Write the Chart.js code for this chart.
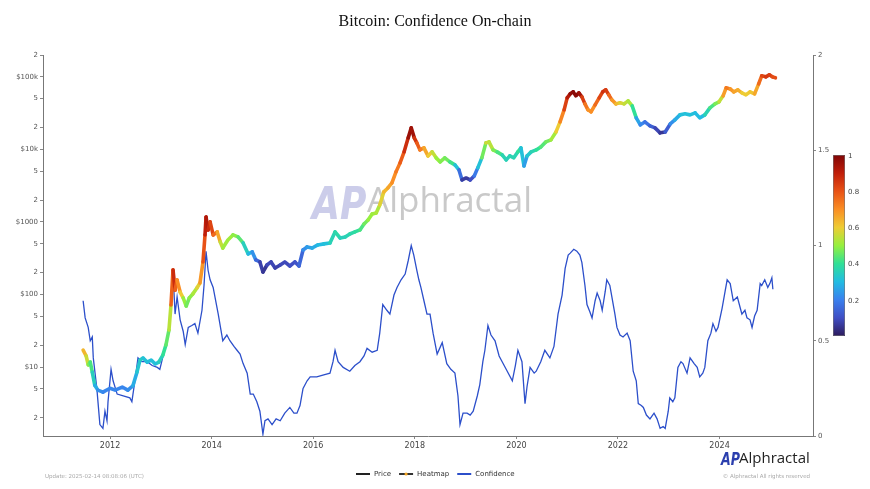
<!DOCTYPE html>
<html>
<head>
<meta charset="utf-8">
<title>Bitcoin: Confidence On-chain</title>
<script src="https://cdn.jsdelivr.net/npm/chart.js@4.4.1/dist/chart.umd.min.js"></script>
<style>
  html, body { margin: 0; padding: 0; background: #fff; }
  canvas { display: block; }
</style>
</head>
<body>
<canvas id="chart" width="870" height="489"></canvas>
<script>
// values (decimal years)
const priceDates = [2011.47, 2011.53, 2011.57, 2011.61, 2011.65, 2011.70, 2011.76, 2011.86, 2012.0, 2012.10,
  2012.24, 2012.35, 2012.45, 2012.53, 2012.59, 2012.65, 2012.73, 2012.81, 2012.89, 2012.96,
  2013.04, 2013.10, 2013.16, 2013.20, 2013.24, 2013.28, 2013.32, 2013.38, 2013.44, 2013.50,
  2013.56, 2013.63, 2013.71, 2013.77, 2013.83, 2013.87, 2013.89, 2013.93, 2013.97, 2014.03,
  2014.11, 2014.17, 2014.22, 2014.32, 2014.42, 2014.52, 2014.62, 2014.72, 2014.80, 2014.87,
  2014.95, 2015.01, 2015.09, 2015.17, 2015.25, 2015.35, 2015.44, 2015.54, 2015.64, 2015.72,
  2015.80, 2015.88, 2015.98, 2016.09, 2016.21, 2016.33, 2016.43, 2016.53, 2016.63, 2016.72,
  2016.82, 2016.92, 2017.0, 2017.08, 2017.16, 2017.24, 2017.31, 2017.39, 2017.47, 2017.55,
  2017.63, 2017.71, 2017.79, 2017.87, 2017.93, 2017.99, 2018.04, 2018.10, 2018.18, 2018.26,
  2018.34, 2018.42, 2018.50, 2018.59, 2018.69, 2018.79, 2018.87, 2018.93, 2019.01, 2019.09,
  2019.17, 2019.24, 2019.32, 2019.40, 2019.46, 2019.54, 2019.62, 2019.72, 2019.80, 2019.87,
  2019.95, 2020.03, 2020.09, 2020.15, 2020.21, 2020.29, 2020.39, 2020.48, 2020.58, 2020.68,
  2020.78, 2020.86, 2020.94, 2021.0, 2021.06, 2021.12, 2021.17, 2021.23, 2021.29, 2021.35,
  2021.41, 2021.47, 2021.55, 2021.63, 2021.70, 2021.76, 2021.82, 2021.88, 2021.96, 2022.04,
  2022.12, 2022.20, 2022.28, 2022.36, 2022.44, 2022.53, 2022.63, 2022.73, 2022.83, 2022.93,
  2023.03, 2023.12, 2023.22, 2023.32, 2023.42, 2023.52, 2023.61, 2023.71, 2023.81, 2023.91,
  2023.99, 2024.07, 2024.13, 2024.21, 2024.28, 2024.36, 2024.44, 2024.52, 2024.60, 2024.69,
  2024.77, 2024.83, 2024.91, 2024.98, 2025.04, 2025.10];

const priceValues = [17.1, 14.2, 10.7, 11.7, 8.5, 5.6, 4.8, 4.5, 5.1, 4.8,
  5.3, 4.8, 5.5, 8.5, 12.5, 13.3, 11.7, 12.5, 11.0, 11.7,
  14.6, 20.1, 32.4, 71.6, 218, 115, 158, 108, 89.5, 69.4,
  89.5, 102, 123, 144, 281, 662, 1172, 776, 1000, 662,
  728, 530, 437, 565, 662, 621, 513, 362, 386, 299,
  281, 204, 255, 281, 232, 255, 281, 247, 281, 247,
  411, 452, 437, 482, 498, 513, 728, 601, 621, 682,
  728, 776, 938, 1066, 1288, 1330, 1714, 2594, 2944, 3451,
  4898, 6516, 9246, 14420, 19800, 14420, 12300, 9840, 10500, 8130,
  9246, 7640, 6730, 7640, 6730, 6110, 5210, 3790, 4040, 3790,
  4300, 5560, 7640, 12300, 12680, 9840, 9246, 8400, 7160, 8130,
  7640, 9246, 10500, 5920, 8130, 9246, 9840, 10810, 12680, 13520,
  17400, 23900, 35100, 51300, 58300, 62100, 54700, 60100, 53000, 42400,
  35100, 32900, 41100, 51300, 62100, 66200, 56500, 48200, 42400, 43800,
  42400, 46700, 39800, 27200, 21800, 23900, 21100, 19800, 16900, 17400,
  22500, 25500, 29900, 30900, 29900, 31900, 27200, 29900, 37300, 42400,
  45200, 54700, 70500, 68200, 62100, 66200, 60100, 56500, 62100, 58300,
  80000, 103300, 100000, 106600, 100000, 96900];

const heatValues = [0.65, 0.62, 0.5, 0.45, 0.4, 0.3, 0.25, 0.2, 0.22, 0.2,
  0.22, 0.2, 0.25, 0.3, 0.35, 0.33, 0.3, 0.32, 0.3, 0.32,
  0.38, 0.42, 0.48, 0.6, 0.95, 0.8, 0.75, 0.65, 0.55, 0.45,
  0.48, 0.5, 0.55, 0.62, 0.75, 0.85, 0.95, 0.9, 0.85, 0.8,
  0.72, 0.6, 0.5, 0.52, 0.5, 0.48, 0.4, 0.3, 0.28, 0.18,
  0.12, 0.03, 0.08, 0.1, 0.07, 0.08, 0.1, 0.08, 0.12, 0.1,
  0.2, 0.25, 0.25, 0.3, 0.3, 0.32, 0.4, 0.35, 0.35, 0.37,
  0.38, 0.4, 0.45, 0.48, 0.52, 0.5, 0.55, 0.62, 0.65, 0.68,
  0.72, 0.75, 0.82, 0.92, 1.0, 0.9, 0.82, 0.75, 0.7, 0.62,
  0.58, 0.52, 0.48, 0.48, 0.45, 0.38, 0.25, 0.08, 0.05, 0.08,
  0.12, 0.25, 0.38, 0.55, 0.58, 0.5, 0.45, 0.4, 0.33, 0.38,
  0.35, 0.38, 0.42, 0.2, 0.3, 0.35, 0.38, 0.42, 0.45, 0.48,
  0.55, 0.65, 0.78, 0.88, 0.95, 1.0, 0.97, 1.0, 0.9, 0.78,
  0.7, 0.68, 0.72, 0.8, 0.85, 0.88, 0.8, 0.72, 0.65, 0.6,
  0.55, 0.55, 0.5, 0.3, 0.22, 0.2, 0.15, 0.12, 0.05, 0.06,
  0.2, 0.25, 0.3, 0.32, 0.3, 0.32, 0.28, 0.32, 0.4, 0.45,
  0.5, 0.6, 0.75, 0.72, 0.65, 0.68, 0.62, 0.58, 0.62, 0.6,
  0.72, 0.8, 0.85, 0.85, 0.82, 0.8];

const confDates = [2011.47, 2011.51, 2011.57, 2011.61, 2011.65, 2011.67, 2011.74, 2011.80, 2011.86, 2011.90,
  2011.94, 2011.96, 2012.02, 2012.06, 2012.14, 2012.26, 2012.39, 2012.43, 2012.49, 2012.55,
  2012.63, 2012.73, 2012.83, 2012.93, 2012.98, 2013.08, 2013.18, 2013.24, 2013.28, 2013.32,
  2013.38, 2013.44, 2013.48, 2013.54, 2013.61, 2013.67, 2013.73, 2013.81, 2013.85, 2013.89,
  2013.93, 2013.97, 2014.03, 2014.13, 2014.22, 2014.30, 2014.36, 2014.44, 2014.50, 2014.56,
  2014.62, 2014.70, 2014.76, 2014.82, 2014.89, 2014.95, 2015.01, 2015.05, 2015.11, 2015.19,
  2015.27, 2015.35, 2015.44, 2015.54, 2015.62, 2015.68, 2015.74, 2015.80, 2015.88, 2015.94,
  2016.07, 2016.19, 2016.33, 2016.39, 2016.43, 2016.49, 2016.59, 2016.72, 2016.82, 2016.92,
  2017.00, 2017.06, 2017.16, 2017.26, 2017.31, 2017.37, 2017.45, 2017.51, 2017.59, 2017.65,
  2017.73, 2017.81, 2017.87, 2017.93, 2017.98, 2018.04, 2018.08, 2018.12, 2018.18, 2018.24,
  2018.30, 2018.36, 2018.44, 2018.54, 2018.63, 2018.71, 2018.79, 2018.85, 2018.89, 2018.95,
  2019.03, 2019.09, 2019.15, 2019.23, 2019.28, 2019.34, 2019.38, 2019.44, 2019.50, 2019.58,
  2019.66, 2019.72, 2019.82, 2019.92, 2019.98, 2020.03, 2020.11, 2020.17, 2020.21, 2020.27,
  2020.35, 2020.39, 2020.48, 2020.56, 2020.66, 2020.74, 2020.82, 2020.90, 2020.96, 2021.02,
  2021.06, 2021.13, 2021.19, 2021.25, 2021.29, 2021.35, 2021.39, 2021.45, 2021.49, 2021.55,
  2021.59, 2021.65, 2021.69, 2021.75, 2021.78, 2021.84, 2021.88, 2021.94, 2021.98, 2022.04,
  2022.10, 2022.18, 2022.24, 2022.30, 2022.36, 2022.40, 2022.46, 2022.50, 2022.56, 2022.63,
  2022.71, 2022.77, 2022.83, 2022.89, 2022.93, 2022.99, 2023.02, 2023.08, 2023.12, 2023.18,
  2023.24, 2023.28, 2023.36, 2023.42, 2023.50, 2023.56, 2023.61, 2023.67, 2023.71, 2023.77,
  2023.83, 2023.87, 2023.93, 2023.97, 2024.05, 2024.11, 2024.15, 2024.21, 2024.27, 2024.35,
  2024.40, 2024.44, 2024.50, 2024.54, 2024.60, 2024.64, 2024.69, 2024.74, 2024.80, 2024.83,
  2024.89, 2024.95, 2024.99, 2025.03, 2025.05];

const confValues = [0.71, 0.62, 0.57, 0.50, 0.52, 0.41, 0.25, 0.06, 0.04, 0.13,
  0.08, 0.18, 0.35, 0.29, 0.22, 0.21, 0.20, 0.18, 0.29, 0.41,
  0.39, 0.39, 0.37, 0.36, 0.35, 0.46, 0.59, 0.86, 0.64, 0.73,
  0.61, 0.55, 0.48, 0.57, 0.58, 0.59, 0.54, 0.66, 0.79, 0.97,
  0.87, 0.82, 0.78, 0.64, 0.50, 0.53, 0.50, 0.47, 0.45, 0.43,
  0.38, 0.33, 0.22, 0.22, 0.18, 0.13, 0.01, 0.08, 0.09, 0.06,
  0.09, 0.08, 0.12, 0.15, 0.12, 0.12, 0.16, 0.25, 0.29, 0.31,
  0.31, 0.32, 0.33, 0.39, 0.45, 0.39, 0.36, 0.34, 0.37, 0.39,
  0.42, 0.46, 0.44, 0.45, 0.54, 0.69, 0.66, 0.64, 0.74, 0.78,
  0.82, 0.85, 0.92, 1.00, 0.95, 0.87, 0.82, 0.78, 0.71, 0.64,
  0.64, 0.54, 0.43, 0.49, 0.38, 0.35, 0.33, 0.21, 0.06, 0.12,
  0.12, 0.11, 0.13, 0.21, 0.27, 0.39, 0.45, 0.58, 0.53, 0.50,
  0.42, 0.39, 0.34, 0.29, 0.37, 0.45, 0.39, 0.17, 0.26, 0.36,
  0.33, 0.34, 0.39, 0.45, 0.41, 0.47, 0.64, 0.74, 0.88, 0.95,
  0.96, 0.98, 0.97, 0.95, 0.91, 0.79, 0.69, 0.65, 0.62, 0.71,
  0.75, 0.71, 0.66, 0.76, 0.82, 0.79, 0.73, 0.64, 0.57, 0.53,
  0.52, 0.54, 0.50, 0.34, 0.29, 0.17, 0.16, 0.15, 0.11, 0.09,
  0.12, 0.09, 0.04, 0.05, 0.04, 0.13, 0.20, 0.18, 0.20, 0.36,
  0.39, 0.38, 0.33, 0.41, 0.38, 0.36, 0.31, 0.33, 0.36, 0.50,
  0.54, 0.59, 0.55, 0.57, 0.67, 0.76, 0.82, 0.80, 0.71, 0.73,
  0.68, 0.64, 0.66, 0.62, 0.61, 0.57, 0.63, 0.66, 0.80, 0.79,
  0.82, 0.78, 0.80, 0.83, 0.77];

const yearTicks = [2012, 2014, 2016, 2018, 2020, 2022, 2024];
const priceTicks = [2, 5, 10, 20, 50, 100, 200, 500, 1000, 2000, 5000, 10000, 20000, 50000, 100000, 200000];
const priceTickLabels = ["2", "5", "$10", "2", "5", "$100", "2", "5", "$1000", "2", "5", "$10k", "2", "5", "$100k", "2"];
const confTicks = [0, 0.5, 1, 1.5, 2];
const heatTicks = [0.2, 0.4, 0.6, 0.8, 1];
const legendItems = ["Price", "Heatmap", "Confidence"];

// colour ramp for the heatmap
const heatStops = [
  [0.0, [45, 27, 92]],
  [0.1, [64, 78, 196]],
  [0.2, [58, 128, 238]],
  [0.3, [34, 188, 226]],
  [0.4, [48, 224, 150]],
  [0.5, [150, 240, 62]],
  [0.6, [238, 204, 52]],
  [0.7, [250, 142, 36]],
  [0.8, [232, 82, 22]],
  [0.9, [192, 30, 10]],
  [1.0, [128, 6, 6]]
];

function heatColor(v) {
  v = Math.max(0, Math.min(1, v));
  for (let i = 1; i < heatStops.length; i++) {
    if (v <= heatStops[i][0]) {
      const a = heatStops[i - 1], b = heatStops[i];
      const t = (v - a[0]) / (b[0] - a[0]);
      const c = a[1].map((n, k) => Math.round(n + (b[1][k] - n) * t));
      return `rgb(${c[0]},${c[1]},${c[2]})`;
    }
  }
  return "rgb(128,6,6)";
}

const confColor = "#2c4fca";
const legendColors = ["#222", "#333", confColor];

const pricePoints = priceDates.map((d, i) => ({ x: d, y: priceValues[i] }));
const confPoints = confDates.map((d, i) => ({ x: d, y: confValues[i] }));

// squeezed italic "AP" mark
function drawMark(ctx, x, y, size, sx, color) {
  ctx.save();
  ctx.translate(x, y);
  ctx.scale(sx, 1);
  ctx.fillStyle = color;
  ctx.font = `italic bold ${size}px 'DejaVu Sans'`;
  ctx.textAlign = "left";
  ctx.textBaseline = "alphabetic";
  ctx.fillText("AP", 0, 0);
  ctx.restore();
}

const decorations = {
  id: "decorations",
  beforeDatasetsDraw(chart) {
    const ctx = chart.ctx;
    ctx.save();
    // watermark
    drawMark(ctx, 312, 219, 44, 0.82, "rgba(198,200,232,0.9)");
    ctx.fillStyle = "rgba(192,192,192,0.85)";
    ctx.font = "35px 'Open Sans'";
    ctx.textBaseline = "alphabetic";
    ctx.fillText("Alphractal", 367, 212);
    ctx.restore();
  },
  afterDraw(chart) {
    const ctx = chart.ctx;
    ctx.save();
    // title
    ctx.fillStyle = "#111";
    ctx.font = "16px 'Liberation Serif'";
    ctx.textAlign = "center";
    ctx.textBaseline = "middle";
    ctx.fillText("Bitcoin: Confidence On-chain", 435, 22);

    // colour bar
    const bx = 833, bw = 12, top = 155, bottom = 336;
    const grad = ctx.createLinearGradient(0, bottom, 0, top);
    heatStops.forEach(s => grad.addColorStop(s[0], heatColor(s[0])));
    ctx.fillStyle = grad;
    ctx.fillRect(bx, top, bw, bottom - top);
    ctx.strokeStyle = "#777";
    ctx.lineWidth = 0.6;
    ctx.strokeRect(bx + 0.5, top + 0.5, bw - 1, bottom - top - 1);
    ctx.fillStyle = "#444";
    ctx.font = "7px 'DejaVu Sans'";
    ctx.textAlign = "left";
    heatTicks.forEach(t => {
      const y = bottom - t * (bottom - top);
      ctx.fillText(String(t), bx + bw + 3, y + 1);
    });

    // legend
    ctx.font = "7px 'DejaVu Sans'";
    ctx.textBaseline = "middle";
    const ly = 474;
    let lx = 356;
    legendItems.forEach((name, i) => {
      ctx.lineWidth = 2;
      ctx.strokeStyle = legendColors[i];
      ctx.beginPath(); ctx.moveTo(lx, ly); ctx.lineTo(lx + 14, ly); ctx.stroke();
      if (name === "Heatmap") {
        ctx.fillStyle = "#f5a623";
        ctx.beginPath(); ctx.arc(lx + 7, ly, 1.6, 0, Math.PI * 2); ctx.fill();
      }
      ctx.fillStyle = "#333";
      ctx.fillText(name, lx + 18, ly);
      lx += 18 + ctx.measureText(name).width + 8;
    });

    // footer texts
    ctx.fillStyle = "#aaa";
    ctx.font = "5.5px 'DejaVu Sans'";
    ctx.fillText("Update: 2025-02-14 08:08:06 (UTC)", 45, 477);
    ctx.textAlign = "right";
    ctx.fillText("\u00a9 Alphractal All rights reserved", 810, 477);

    // bottom logo
    drawMark(ctx, 721, 465, 18, 0.7, "#2b3fae");
    ctx.textAlign = "left";
    ctx.textBaseline = "alphabetic";
    ctx.fillStyle = "#222";
    ctx.font = "15px 'Open Sans'";
    ctx.fillText("Alphractal", 739, 463);
    ctx.restore();
  }
};

new Chart(document.getElementById("chart"), {
  type: "line",
  data: {
    datasets: [
      {
        label: "Heatmap",
        data: pricePoints,
        yAxisID: "yPrice",
        borderWidth: 3.6,
        borderCapStyle: "round",
        borderJoinStyle: "round",
        pointRadius: 0,
        tension: 0,
        segment: {
          borderColor: c => heatColor((heatValues[c.p0DataIndex] + heatValues[c.p1DataIndex]) / 2)
        }
      },
      {
        label: "Price",
        data: pricePoints,
        yAxisID: "yPrice",
        borderColor: "#111",
        borderWidth: 1,
        pointRadius: 0,
        tension: 0
      },
      {
        label: "Confidence",
        data: confPoints,
        yAxisID: "yConf",
        borderColor: confColor,
        borderWidth: 1.3,
        pointRadius: 0,
        tension: 0
      }
    ]
  },
  options: {
    responsive: false,
    animation: false,
    devicePixelRatio: 1,
    layout: { padding: { top: 55, bottom: 33, left: 0, right: 0 } },
    plugins: { legend: { display: false }, tooltip: { enabled: false }, title: { display: false } },
    scales: {
      x: {
        type: "linear",
        min: 2010.68,
        max: 2025.84,
        afterFit: s => { s.height = 20; },
        afterBuildTicks: s => { s.ticks = yearTicks.map(v => ({ value: v })); },
        ticks: {
          color: "#444",
          font: { family: "DejaVu Sans", size: 8 },
          padding: 2,
          maxRotation: 0,
          callback: v => String(v)
        },
        grid: { drawOnChartArea: false, drawTicks: true, tickLength: 3, color: "#888" },
        border: { display: true, color: "#777", width: 1 }
      },
      yPrice: {
        type: "logarithmic",
        position: "left",
        min: 1.12,
        max: 200000,
        afterFit: s => { s.width = 43; },
        afterBuildTicks: s => { s.ticks = priceTicks.map(v => ({ value: v })); },
        ticks: {
          color: "#555",
          font: { family: "DejaVu Sans", size: 7 },
          padding: 2,
          autoSkip: false,
          callback: (v, i) => priceTickLabels[i]
        },
        grid: { drawOnChartArea: false, drawTicks: true, tickLength: 3, color: "#888" },
        border: { display: true, color: "#777", width: 1 }
      },
      yConf: {
        type: "linear",
        position: "right",
        min: 0,
        max: 2,
        afterFit: s => { s.width = 57; },
        afterBuildTicks: s => { s.ticks = confTicks.map(v => ({ value: v })); },
        ticks: {
          color: "#555",
          font: { family: "DejaVu Sans", size: 7 },
          padding: 2,
          callback: v => String(v)
        },
        grid: { drawOnChartArea: false, drawTicks: true, tickLength: 3, color: "#888" },
        border: { display: true, color: "#777", width: 1 }
      }
    }
  },
  plugins: [decorations]
});
</script>
</body>
</html>
